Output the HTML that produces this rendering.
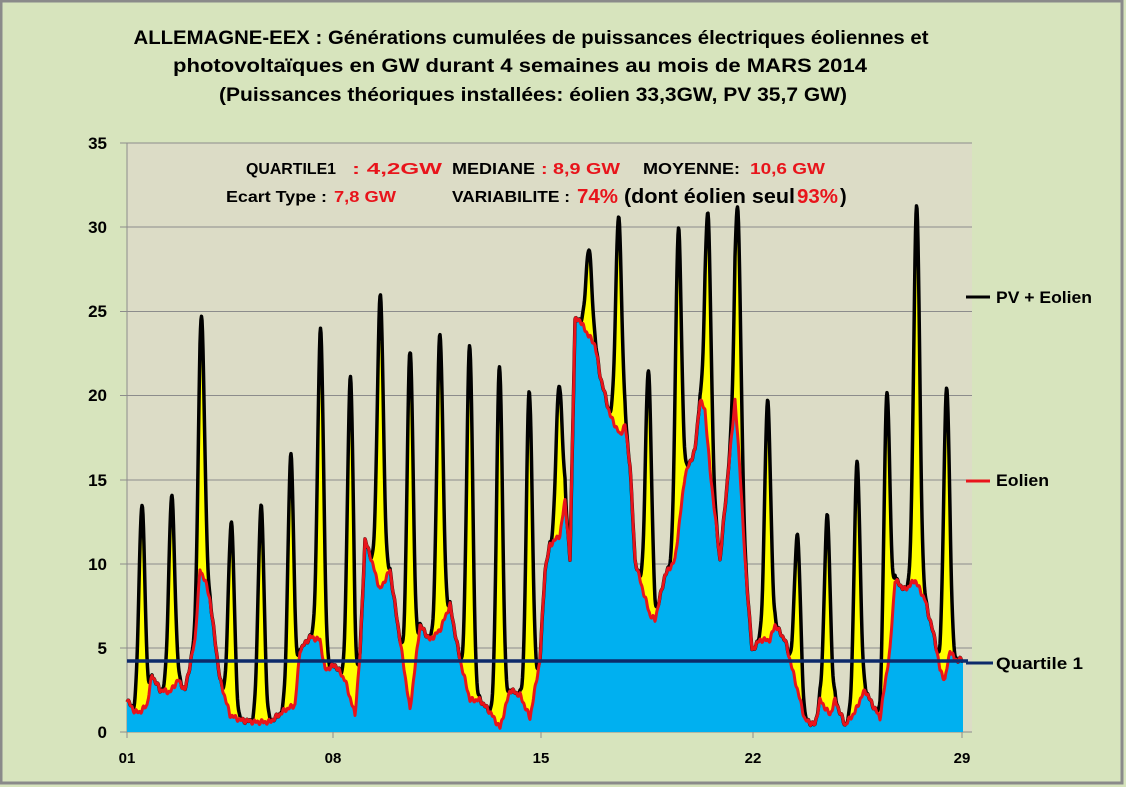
<!DOCTYPE html>
<html><head><meta charset="utf-8"><style>
html,body{margin:0;padding:0;background:#d7e4bd;}
svg{display:block;}
text{font-family:"Liberation Sans",sans-serif;font-weight:bold;}
</style></head><body>
<svg id="s" width="1126" height="787" xmlns="http://www.w3.org/2000/svg">
<rect x="0" y="0" width="1126" height="787" fill="#d7e4bd"/>
<rect x="1" y="1" width="1121" height="782" fill="none" stroke="#8a8a8a" stroke-width="3"/>
<rect x="127" y="143" width="845" height="589" fill="#dcdcc6"/>
<g stroke="#8c8c8c" stroke-width="1">
<line x1="120" y1="143" x2="972" y2="143"/><line x1="120" y1="227" x2="972" y2="227"/>
<line x1="120" y1="311.5" x2="972" y2="311.5"/><line x1="120" y1="395.5" x2="972" y2="395.5"/>
<line x1="120" y1="480" x2="972" y2="480"/><line x1="120" y1="564" x2="972" y2="564"/>
<line x1="120" y1="648" x2="972" y2="648"/><line x1="120" y1="732" x2="972" y2="732"/>
<line x1="127" y1="143" x2="127" y2="738"/>
<line x1="333" y1="732" x2="333" y2="738"/><line x1="541" y1="732" x2="541" y2="738"/>
<line x1="753" y1="732" x2="753" y2="738"/><line x1="962" y1="732" x2="962" y2="738"/>
</g>
<g id="data"></g>
<line x1="127" y1="661" x2="968" y2="661" stroke="#0c2a6a" stroke-width="3.5"/>
<g font-size="17" text-anchor="end">
<text x="107" y="149">35</text><text x="107" y="233">30</text><text x="107" y="317">25</text>
<text x="107" y="401">20</text><text x="107" y="486">15</text><text x="107" y="570">10</text>
<text x="107" y="654">5</text><text x="107" y="738">0</text>
</g>
<g font-size="15" text-anchor="middle">
<text x="127" y="763">01</text><text x="333" y="763">08</text><text x="541" y="763">15</text>
<text x="753" y="763">22</text><text x="962" y="763">29</text>
</g>
<g font-size="19" text-anchor="middle">
<text x="531" y="44" textLength="795" lengthAdjust="spacingAndGlyphs">ALLEMAGNE-EEX : Générations cumulées de puissances électriques éoliennes et</text>
<text x="520" y="72" textLength="694" lengthAdjust="spacingAndGlyphs">photovoltaïques en GW durant 4 semaines au mois de MARS 2014</text>
<text x="533" y="101" textLength="628" lengthAdjust="spacingAndGlyphs">(Puissances théoriques installées: éolien 33,3GW, PV  35,7 GW)</text>
</g>
<g font-size="16">
<text x="246" y="174" textLength="90" lengthAdjust="spacingAndGlyphs">QUARTILE1</text>
<text x="352" y="174" fill="#e8141b" textLength="90" lengthAdjust="spacingAndGlyphs">: 4,2GW</text>
<text x="452" y="174" textLength="83" lengthAdjust="spacingAndGlyphs">MEDIANE</text>
<text x="541" y="174" fill="#e8141b" textLength="79" lengthAdjust="spacingAndGlyphs">: 8,9 GW</text>
<text x="643" y="174" textLength="97" lengthAdjust="spacingAndGlyphs">MOYENNE:</text>
<text x="750" y="174" fill="#e8141b" textLength="75" lengthAdjust="spacingAndGlyphs">10,6 GW</text>
<text x="226" y="202" textLength="101" lengthAdjust="spacingAndGlyphs">Ecart Type :</text>
<text x="334" y="202" fill="#e8141b" textLength="62" lengthAdjust="spacingAndGlyphs">7,8 GW</text>
<text x="452" y="202" textLength="118" lengthAdjust="spacingAndGlyphs">VARIABILITE :</text>
<text x="577" y="203" font-size="20" fill="#e8141b" textLength="41" lengthAdjust="spacingAndGlyphs">74%</text>
<text x="624" y="203" font-size="20" textLength="171" lengthAdjust="spacingAndGlyphs">(dont éolien seul</text>
<text x="797" y="203" font-size="20" fill="#e8141b" textLength="41" lengthAdjust="spacingAndGlyphs">93%</text>
<text x="840" y="203" font-size="20">)</text>
</g>
<line x1="966" y1="297" x2="990" y2="297" stroke="#000" stroke-width="3"/>
<line x1="966" y1="481" x2="990" y2="481" stroke="#e8141b" stroke-width="3"/>
<line x1="966" y1="663" x2="993" y2="663" stroke="#0c2a6a" stroke-width="3"/>
<g font-size="17">
<text x="996" y="303" textLength="96" lengthAdjust="spacingAndGlyphs">PV + Eolien</text>
<text x="996" y="486" textLength="53" lengthAdjust="spacingAndGlyphs">Eolien</text>
<text x="996" y="669" textLength="87" lengthAdjust="spacingAndGlyphs">Quartile 1</text>
</g>
</svg>
<script>
var W=[[127,700],[135,712],[140,712],[147,705],[152,675],[160,690],[170,692],[178,680],[185,690],[195,640],[200,570],[205,580],[210,600],[215,640],[220,680],[230,715],[240,720],[255,722],[270,722],[285,710],[295,705],[300,650],[310,637],[320,640],[325,670],[335,665],[345,680],[355,715],[360,655],[365,540],[370,555],[380,590],[390,570],[400,640],[410,710],[420,625],[430,640],[440,630],[450,605],[460,660],[470,700],[480,700],[490,712],[500,728],[510,690],[520,695],[530,718],[540,660],[545,570],[550,545],[560,535],[565,500],[570,560],[575,320],[580,320],[585,330],[595,345],[600,375],[610,415],[620,435],[625,425],[630,465],[635,560],[640,580],[650,615],[655,620],[665,575],[675,560],[685,475],[695,450],[700,400],[705,410],[710,470],[720,560],[735,400],[740,470],[745,560],[752,650],[760,640],[770,640],[775,625],[785,640],[795,680],[805,720],[815,725],[820,700],[830,715],[835,700],[845,725],[855,712],[860,700],[865,690],[870,700],[880,718],[890,650],[895,580],[905,590],[915,580],[925,600],[935,640],[940,670],[945,680],[950,650],[955,660],[963,660]];
var P=[13.5,14,24.7,12.5,13.4,16.4,23.9,21.1,25.9,22.5,23.7,23,21.7,20.3,20.7,28.7,30.6,21.5,29.9,30.7,30.9,19.7,11.7,12.8,16,20.2,31.3,20.4];
function wy0(x){for(var i=1;i<W.length;i++){if(x<=W[i][0]){var a=W[i-1],b=W[i];return a[1]+(b[1]-a[1])*(x-a[0])/(b[0]-a[0]);}}return W[W.length-1][1];}
function wy(x){var y=wy0(x)+1.5*Math.sin(x*1.7)+1.2*Math.sin(x*0.9+1);return Math.min(y,730);}
var D=29.8,S=16.83,x0=127,x1=963;
var red=[],blk=[];
for(var x=x0;x<=x1;x+=0.5){
 var d=(x-x0)/D,k=Math.floor(d),f=d-k,pv=0;
 if(k<28){var A=P[k]-(732-wy0(x0+D*(k+0.5)))/S;if(A<0)A=0;var g=(f-0.5)/0.1;pv=A*Math.exp(-g*g/2);}
 var ry=wy(x);red.push([x,ry]);blk.push([x,ry-pv*S]);
}
function pts(a){return a.map(function(p){return p[0].toFixed(1)+","+p[1].toFixed(1);}).join(" ");}
var ns="http://www.w3.org/2000/svg",g=document.getElementById("data");
function el(n,at){var e=document.createElementNS(ns,n);for(var k in at)e.setAttribute(k,at[k]);g.appendChild(e);}
el("polygon",{points:pts(blk)+" "+pts(red.slice().reverse()),fill:"#ffff00"});
el("polygon",{points:x0+",732 "+pts(red)+" "+x1+",732",fill:"#00b0f0"});
el("polyline",{points:pts(blk),fill:"none",stroke:"#000","stroke-width":3.5,"stroke-linejoin":"round"});
el("polyline",{points:pts(red),fill:"none",stroke:"#e8141b","stroke-width":3,"stroke-linejoin":"round"});
</script>
</body></html>
